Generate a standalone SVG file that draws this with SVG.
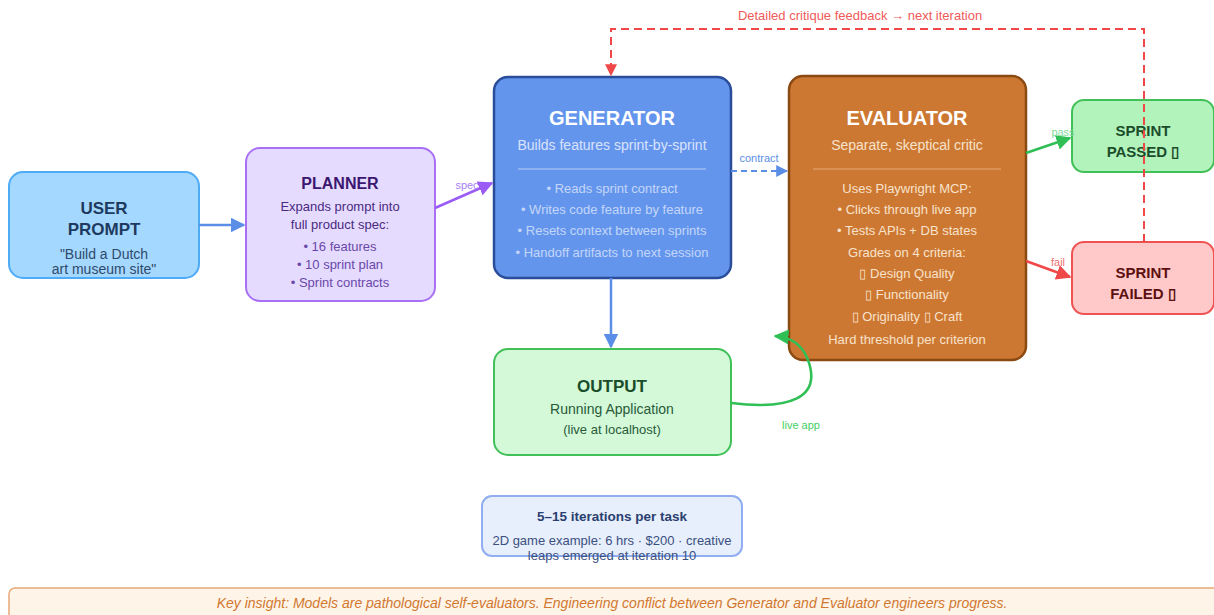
<svg xmlns="http://www.w3.org/2000/svg" width="1214" height="615" viewBox="0 0 1214 615">
<style>
text{font-family:"Liberation Sans",Arial,sans-serif;text-anchor:middle}
.b{font-weight:bold}
.gen{fill:#ffffff}
.gsub{fill:#e4ecff;font-size:14px;opacity:.9}
.gb{fill:#d4e1fb;font-size:13px;opacity:.85}
.esub{fill:#f7e2cc;font-size:14px}
.eb{fill:#f7e2cc;font-size:13px}
.lbl{font-size:11px}
</style>
<defs>
<marker id="ab" viewBox="0 0 10 10" refX="9" refY="5" markerWidth="6" markerHeight="6" orient="auto"><path d="M0,0L10,5L0,10z" fill="#5b8ee6"/></marker>
<marker id="ap" viewBox="0 0 10 10" refX="9" refY="5" markerWidth="6" markerHeight="6" orient="auto"><path d="M0,0L10,5L0,10z" fill="#9a5cf5"/></marker>
<marker id="ag" viewBox="0 0 10 10" refX="9" refY="5" markerWidth="6" markerHeight="6" orient="auto"><path d="M0,0L10,5L0,10z" fill="#2fbf55"/></marker>
<marker id="ar" viewBox="0 0 10 10" refX="9" refY="5" markerWidth="6" markerHeight="6" orient="auto"><path d="M0,0L10,5L0,10z" fill="#f04848"/></marker>
</defs>
<rect width="1214" height="615" fill="#ffffff"/>

<g id="user-prompt">
<rect x="9" y="172" width="190" height="106" rx="14" fill="#a5d8ff" stroke="#4dabf7" stroke-width="2"/>
<text x="104" y="214" class="b" font-size="17" fill="#1e3a5f">USER</text>
<text x="104" y="235" class="b" font-size="17" fill="#1e3a5f">PROMPT</text>
<text x="104" y="259" font-size="14" fill="#2e4a6b">"Build a Dutch</text>
<text x="104" y="274" font-size="14" fill="#2e4a6b">art museum site"</text>
</g>

<g id="planner">
<rect x="246" y="148" width="189" height="153" rx="14" fill="#e5dbff" stroke="#a970f5" stroke-width="2"/>
<text x="340" y="189" class="b" font-size="16" fill="#3b1670">PLANNER</text>
<text x="340" y="211" font-size="13" fill="#4a2a80">Expands prompt into</text>
<text x="340" y="229" font-size="13" fill="#4a2a80">full product spec:</text>
<text x="340" y="251" font-size="13" fill="#6a48a8">• 16 features</text>
<text x="340" y="269" font-size="13" fill="#6a48a8">• 10 sprint plan</text>
<text x="340" y="287" font-size="13" fill="#6a48a8">• Sprint contracts</text>
</g>

<g id="generator">
<rect x="494" y="77" width="237" height="201" rx="14" fill="#6495ed" stroke="#2a4d9a" stroke-width="2.5"/>
<text x="612" y="125" class="b gen" font-size="20">GENERATOR</text>
<text x="612" y="150" class="gsub">Builds features sprint-by-sprint</text>
<line x1="518" y1="169" x2="706" y2="169" stroke="#b8cdf5" stroke-width="1"/>
<text x="612" y="193" class="gb">• Reads sprint contract</text>
<text x="612" y="214" class="gb">• Writes code feature by feature</text>
<text x="612" y="235" class="gb">• Resets context between sprints</text>
<text x="612" y="257" class="gb">• Handoff artifacts to next session</text>
</g>

<g id="evaluator">
<rect x="789" y="76" width="237" height="284" rx="14" fill="#cd7832" stroke="#8b4a12" stroke-width="2.5"/>
<text x="907" y="125" class="b gen" font-size="20">EVALUATOR</text>
<text x="907" y="150" class="esub">Separate, skeptical critic</text>
<line x1="813" y1="169" x2="1001" y2="169" stroke="#e4a877" stroke-width="1"/>
<text x="907" y="193" class="eb">Uses Playwright MCP:</text>
<text x="907" y="214" class="eb">• Clicks through live app</text>
<text x="907" y="235" class="eb">• Tests APIs + DB states</text>
<text x="907" y="257" class="eb">Grades on 4 criteria:</text>
<text x="907" y="278" class="eb">▯ Design Quality</text>
<text x="907" y="299" class="eb">▯ Functionality</text>
<text x="907" y="321" class="eb">▯ Originality ▯ Craft</text>
<text x="907" y="344" class="eb">Hard threshold per criterion</text>
</g>

<g id="sprint-passed">
<rect x="1072" y="100" width="142" height="72" rx="12" fill="#b2f2bb" stroke="#40c057" stroke-width="2"/>
<text x="1143" y="136" class="b" font-size="15" fill="#1b4d2b">SPRINT</text>
<text x="1143" y="157" class="b" font-size="15" fill="#1b4d2b">PASSED ▯</text>
</g>

<g id="sprint-failed">
<rect x="1072" y="242" width="142" height="72" rx="12" fill="#ffc9c9" stroke="#f05252" stroke-width="2"/>
<text x="1143" y="278" class="b" font-size="15" fill="#5c1010">SPRINT</text>
<text x="1143" y="299" class="b" font-size="15" fill="#5c1010">FAILED ▯</text>
</g>

<g id="output">
<rect x="494" y="349" width="237" height="106" rx="14" fill="#d3f9d8" stroke="#40c057" stroke-width="2"/>
<text x="612" y="392" class="b" font-size="17" fill="#1a4d2a">OUTPUT</text>
<text x="612" y="414" font-size="14" fill="#2a5a38">Running Application</text>
<text x="612" y="434" font-size="13" fill="#2a5a38">(live at localhost)</text>
</g>

<g id="iterations">
<rect x="482" y="496" width="260" height="60" rx="10" fill="#e7eefc" stroke="#90aef0" stroke-width="2"/>
<text x="612" y="521" class="b" font-size="13.5" fill="#2a3f6f">5–15 iterations per task</text>
<text x="612" y="545" font-size="13" fill="#3a5080">2D game example: 6 hrs · $200 · creative</text>
<text x="612" y="560" font-size="13" fill="#3a5080">leaps emerged at iteration 10</text>
</g>

<g id="key-insight">
<rect x="9" y="588" width="1216" height="40" rx="6" fill="#fff4e8" stroke="#e8a878" stroke-width="1.5"/>
<text x="612" y="608" font-size="14" font-style="italic" fill="#d07830">Key insight: Models are pathological self-evaluators. Engineering conflict between Generator and Evaluator engineers progress.</text>
</g>

<g id="connectors" fill="none">
<line x1="199" y1="225" x2="244" y2="225" stroke="#5b8ee6" stroke-width="2.5" marker-end="url(#ab)"/>
<line x1="435" y1="208" x2="492" y2="183" stroke="#9a5cf5" stroke-width="2.5" marker-end="url(#ap)"/>
<text x="467" y="189" class="lbl" fill="#a780f5" stroke="none">spec</text>
<line x1="731" y1="171" x2="787" y2="171" stroke="#5b8ee6" stroke-width="2" stroke-dasharray="6,4" marker-end="url(#ab)"/>
<text x="759" y="162" class="lbl" fill="#5b8ee6" stroke="none">contract</text>
<line x1="611" y1="278" x2="611" y2="347" stroke="#5b8ee6" stroke-width="2.5" marker-end="url(#ab)"/>
<line x1="1026" y1="153" x2="1070" y2="138" stroke="#2fbf55" stroke-width="2.5" marker-end="url(#ag)"/>
<text x="1063" y="136" class="lbl" fill="#7fdc98" stroke="none">pass</text>
<line x1="1026" y1="261" x2="1070" y2="277" stroke="#f04848" stroke-width="2.5" marker-end="url(#ar)"/>
<text x="1058" y="266" class="lbl" fill="#f07070" stroke="none">fail</text>
<path d="M731,403 C790,410 822,398 808,360 C802,344 790,337 775,336" stroke="#2fbf55" stroke-width="2.5" marker-end="url(#ag)"/>
<text x="801" y="429" class="lbl" fill="#3fcf65" stroke="none">live app</text>
<path d="M1144,242 V29 H611 V75" stroke="#f04848" stroke-width="2" stroke-dasharray="8,5" marker-end="url(#ar)"/>
<text x="860" y="20" font-size="13" fill="#f05a5a" stroke="none">Detailed critique feedback → next iteration</text>
</g>
</svg>
